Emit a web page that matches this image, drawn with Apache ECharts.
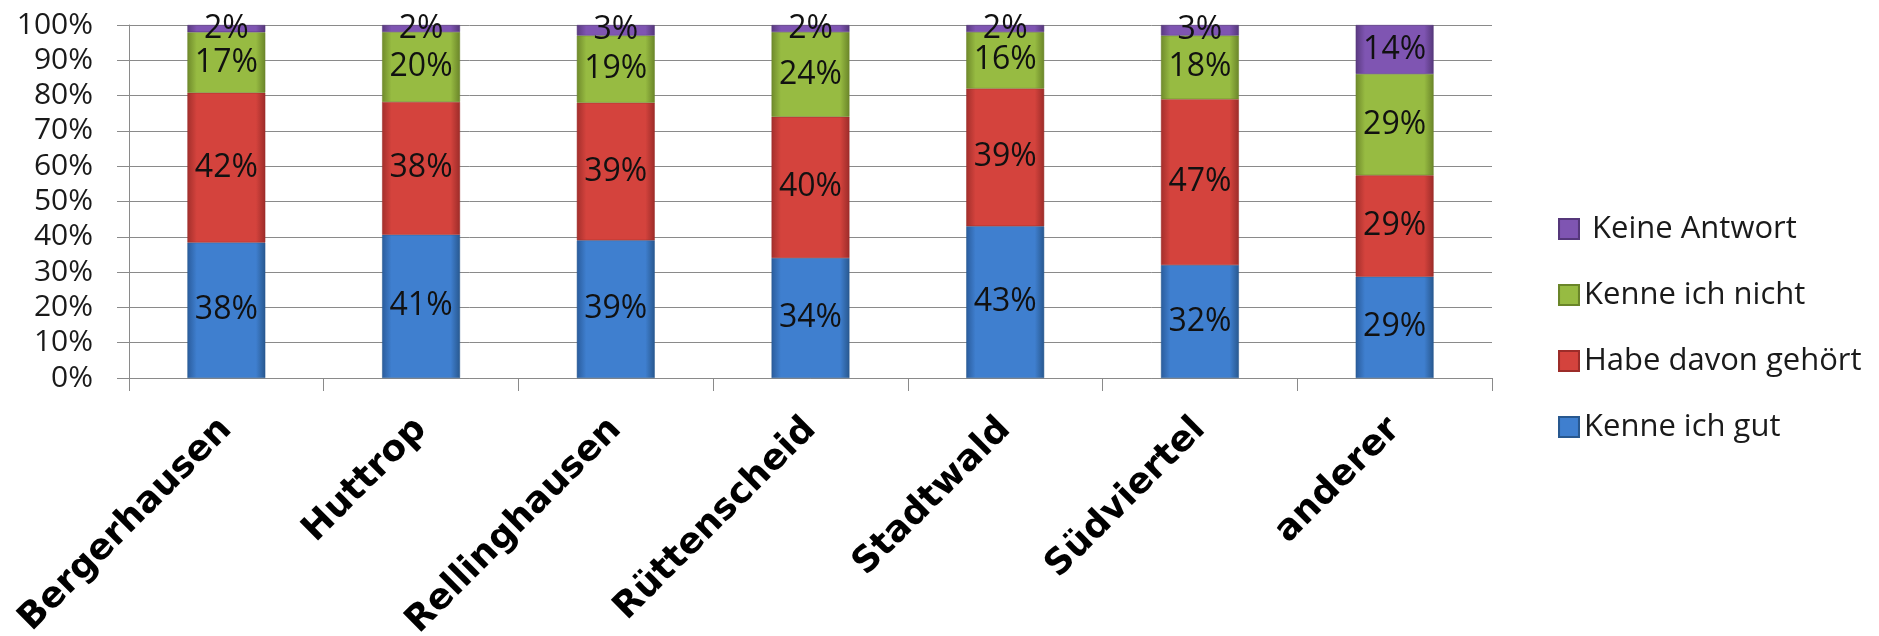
<!DOCTYPE html>
<html>
<head>
<meta charset="utf-8">
<script src="https://cdn.jsdelivr.net/npm/echarts@6/dist/echarts.min.js"></script>
<style>
html,body{margin:0;padding:0;background:#fff;}
#chart{width:1879px;height:636px;}
</style>
</head>
<body>
<div id="chart"></div>
<script>
const categories = ['Bergerhausen', 'Huttrop', 'Rellinghausen', 'Rüttenscheid', 'Stadtwald', 'Südviertel', 'anderer'];
const kenneIchGut = [38, 41, 39, 34, 43, 32, 29];
const habeDavonGehoert = [42, 38, 39, 40, 39, 47, 29];
const kenneIchNicht = [17, 20, 19, 24, 16, 18, 29];
const keineAntwort = [2, 2, 3, 2, 2, 3, 14];
const seriesNames = ['Kenne ich gut', 'Habe davon gehört', 'Kenne ich nicht', ' Keine Antwort'];
const seriesColors = [
  ['#2a5c9c', '#3f7fcf', '#28588f'],
  ['#a32f2c', '#d4433d', '#9c2c29'],
  ['#6f8a2b', '#97bb42', '#6a8529'],
  ['#5a3a80', '#7f55b2', '#55377a']
];

const raw = [kenneIchGut, habeDavonGehoert, kenneIchNicht, keineAntwort];
const totals = categories.map((c, i) => raw.reduce((s, arr) => s + arr[i], 0));

function grad(c) {
  return new echarts.graphic.LinearGradient(0, 0, 1, 0, [
    {offset: 0, color: c[0]},
    {offset: 0.12, color: c[1]},
    {offset: 0.88, color: c[1]},
    {offset: 1, color: c[2]}
  ]);
}

const series = raw.map((arr, k) => ({
  name: seriesNames[k],
  type: 'bar',
  stack: 'total',
  barWidth: '40%',
  data: arr.map((v, i) => v / totals[i] * 100),
  itemStyle: {color: grad(seriesColors[k]), borderColor: seriesColors[k][2], borderWidth: 0.5},
  label: {
    show: true,
    position: 'inside',
    formatter: p => arr[p.dataIndex] + '%',
    fontFamily: 'Open Sans',
    fontSize: 32,
    color: '#111'
  }
}));

const chart = echarts.init(document.getElementById('chart'), null, {renderer: 'canvas'});
chart.setOption({
  animation: false,
  backgroundColor: '#fff',
  grid: {left: 129, right: 387, top: 25, bottom: 258, containLabel: false, outerBoundsMode: 'none'},
  legend: {
    orient: 'vertical',
    left: 1553,
    top: 208,
    icon: 'rect',
    itemWidth: 20,
    itemHeight: 20,
    itemGap: 34,
    data: seriesNames.slice().reverse(),
    textStyle: {fontFamily: 'Open Sans', fontSize: 31, color: '#1a1a1a', lineHeight: 32}
  },
  xAxis: {
    type: 'category',
    data: categories,
    axisLine: {show: true, lineStyle: {color: '#8a8a8a', width: 1}},
    axisTick: {show: true, alignWithLabel: false, length: 13, lineStyle: {color: '#8a8a8a'}},
    axisLabel: {
      rotate: 45,
      margin: 46,
      interval: 0,
      fontFamily: 'DejaVu Sans',
      fontWeight: 'bold',
      fontSize: 36,
      color: '#000'
    }
  },
  yAxis: {
    type: 'value',
    min: 0,
    max: 100,
    interval: 10,
    axisLine: {show: true, lineStyle: {color: '#8a8a8a', width: 1}},
    axisTick: {show: true, length: 12, lineStyle: {color: '#8a8a8a'}},
    splitLine: {show: true, lineStyle: {color: '#8a8a8a', width: 1}},
    axisLabel: {
      formatter: '{value}%',
      margin: 36,
      fontFamily: 'Open Sans',
      fontSize: 30,
      color: '#1a1a1a'
    }
  },
  series: series
});
</script>
</body>
</html>
